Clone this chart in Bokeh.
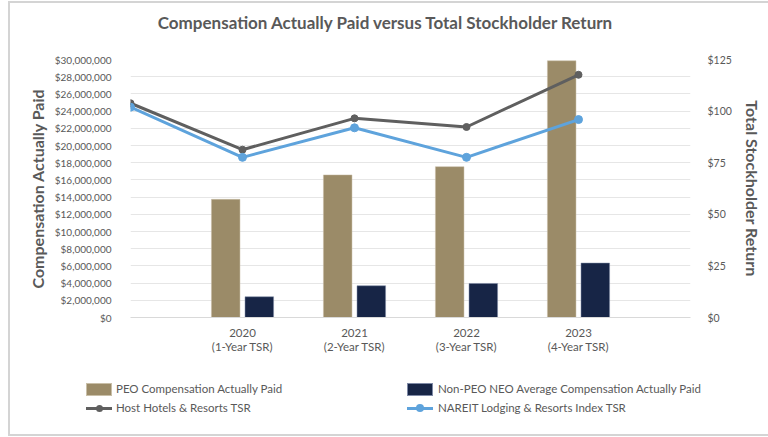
from bokeh.plotting import figure
from bokeh.layouts import column
from bokeh.models import (Range1d, LinearAxis, FixedTicker, NumeralTickFormatter,
                          ColumnDataSource, Div)
from bokeh.transform import dodge
from bokeh.embed import file_html
from bokeh.resources import INLINE

# ---- data ----
title_text = "Compensation Actually Paid versus Total Stockholder Return"
years = [1, 2, 3, 4]
tick_labels = ["2020\n(1-Year TSR)", "2021\n(2-Year TSR)", "2022\n(3-Year TSR)", "2023\n(4-Year TSR)"]
peo_cap = [13.74e6, 16.58e6, 17.54e6, 29.85e6]
neo_cap = [2.41e6, 3.69e6, 3.96e6, 6.33e6]
tsr_x = [0, 1, 2, 3, 4]
host_tsr = [103.8, 81.3, 96.5, 92.3, 117.6]
nareit_tsr = [101.9, 77.6, 91.9, 77.6, 95.9]
series_names = ["PEO Compensation Actually Paid",
                "Non-PEO NEO Average Compensation Actually Paid",
                "Host Hotels & Resorts TSR",
                "NAREIT Lodging & Resorts Index TSR"]

FONT = "Lato"
TXT = "#595959"
PEO_C = "#9b8b68"
NEO_C = "#172546"
HOST_C = "#5f5f5f"
NAR_C = "#5ea3dc"
FRAME_C = "#d4d4d4"

# ---- title ----
title_div = Div(width=768, height=45, margin=0, text=(
    f'<div style="position:relative;width:768px;height:45px;">'
    f'<div style="position:absolute;left:1px;top:12px;width:768px;text-align:center;'
    f'font-family:{FONT};font-weight:bold;font-size:17px;line-height:22px;color:{TXT};'
    f'white-space:nowrap;">{title_text}</div></div>'))

# ---- main chart ----
p = figure(width=768, height=320, output_backend="svg", toolbar_location=None, title=None,
           x_range=Range1d(0, 5), y_range=Range1d(0, 30e6),
           min_border_left=130, min_border_right=78, min_border_top=14, min_border_bottom=48)
p.outline_line_color = None
p.background_fill_color = "white"
p.border_fill_color = None

p.extra_y_ranges = {"tsr": Range1d(0, 125)}

bw = 0.255
src = ColumnDataSource(dict(x=years, peo=peo_cap, neo=neo_cap))
p.vbar(x=dodge("x", -0.15, range=p.x_range), top="peo", width=bw, source=src,
       fill_color=PEO_C, line_color="#c9bfa8", line_width=0.5)
p.vbar(x=dodge("x", 0.15, range=p.x_range), top="neo", width=bw, source=src,
       fill_color=NEO_C, line_color="#7f8aa6", line_width=0.5)

p.line(tsr_x, host_tsr, y_range_name="tsr", line_color=HOST_C, line_width=3)
p.scatter(tsr_x, host_tsr, y_range_name="tsr", size=7, fill_color=HOST_C, line_color=HOST_C)
p.line(tsr_x, nareit_tsr, y_range_name="tsr", line_color=NAR_C, line_width=3)
p.scatter(tsr_x, nareit_tsr, y_range_name="tsr", size=8, fill_color=NAR_C, line_color=NAR_C)

ya = p.yaxis[0]
ya.ticker = FixedTicker(ticks=[i * 2e6 for i in range(16)])
ya.formatter = NumeralTickFormatter(format="$0,0")
ya.axis_label = "Compensation Actually Paid"
ya.axis_line_color = None
ya.major_tick_line_color = None
ya.minor_tick_line_color = None
ya.major_tick_out = 0
ya.minor_tick_out = 0
ya.major_label_standoff = 19
ya.axis_label_standoff = 5
ya.major_label_text_font = FONT
ya.major_label_text_font_size = "10px"
ya.major_label_text_color = TXT
ya.axis_label_text_font = FONT
ya.axis_label_text_font_size = "16px"
ya.axis_label_text_font_style = "bold"
ya.axis_label_text_color = TXT

ra = LinearAxis(y_range_name="tsr", ticker=FixedTicker(ticks=[0, 25, 50, 75, 100, 125]),
                formatter=NumeralTickFormatter(format="$0"))
ra.axis_label = "Total Stockholder Return"
ra.axis_line_color = None
ra.major_tick_line_color = None
ra.minor_tick_line_color = None
ra.major_tick_out = 0
ra.minor_tick_out = 0
ra.major_label_standoff = 17
ra.axis_label_standoff = 8
ra.major_label_text_font = FONT
ra.major_label_text_font_size = "10.5px"
ra.major_label_text_color = TXT
ra.axis_label_text_font = FONT
ra.axis_label_text_font_size = "16px"
ra.axis_label_text_font_style = "bold"
ra.axis_label_text_color = TXT
p.add_layout(ra, "right")

xa = p.xaxis[0]
xa.ticker = FixedTicker(ticks=years)
xa.major_label_overrides = {y: t for y, t in zip(years, tick_labels)}
xa.axis_line_color = "#d9d9d9"
xa.axis_line_width = 1
xa.major_tick_line_color = None
xa.minor_tick_line_color = None
xa.major_tick_out = 0
xa.minor_tick_out = 0
xa.major_label_standoff = 8
xa.major_label_text_font = FONT
xa.major_label_text_font_size = "11.5px"
xa.major_label_text_line_height = 1.15
xa.major_label_text_color = TXT

p.xgrid.grid_line_color = None
p.ygrid.grid_line_color = "#e6e6e6"
p.ygrid.grid_line_width = 1

# ---- legend (HTML strip under the chart) ----
def swatch(left, top, color, edge):
    return (f'<span style="position:absolute;left:{left}px;top:{top}px;width:26px;height:13px;'
            f'background:{color};box-sizing:border-box;border:0.5px solid {edge};"></span>')

def line_icon(left, cy, color, d):
    return (f'<span style="position:absolute;left:{left}px;top:{cy - 1.5}px;width:26px;height:3px;'
            f'background:{color};"></span>'
            f'<span style="position:absolute;left:{left + 13 - d / 2}px;top:{cy - d / 2}px;width:{d}px;'
            f'height:{d}px;border-radius:50%;background:{color};"></span>')

def label(left, cy, text):
    return (f'<span style="position:absolute;left:{left}px;top:{cy - 8}px;line-height:16px;'
            f'font-family:{FONT};font-size:11.5px;color:{TXT};white-space:nowrap;">{text}</span>')

r1, r2 = 24, 43
leg_html = ('<div style="position:relative;width:768px;height:72px;">'
            + swatch(86, r1 - 6.5, PEO_C, "#c9bfa8") + label(116, r1, series_names[0])
            + swatch(407, r1 - 6.5, NEO_C, "#7f8aa6") + label(438, r1, series_names[1])
            + line_icon(86, r2, HOST_C, 7) + label(116, r2, series_names[2].replace("&", "&amp;"))
            + line_icon(407, r2, NAR_C, 8) + label(438, r2, series_names[3].replace("&", "&amp;"))
            + '</div>')
legend_div = Div(width=768, height=72, margin=0, text=leg_html)

frame_bg = (f"linear-gradient({FRAME_C},{FRAME_C}) 8px 1px / 2px 435px no-repeat, "
            f"linear-gradient({FRAME_C},{FRAME_C}) 8px 1px / 760px 2px no-repeat, "
            f"linear-gradient({FRAME_C},{FRAME_C}) 8px 434px / 760px 2px no-repeat, white")

layout = column(title_div, p, legend_div, spacing=0, styles={"background": frame_bg})
open("out.html", "w").write(file_html(layout, INLINE))
